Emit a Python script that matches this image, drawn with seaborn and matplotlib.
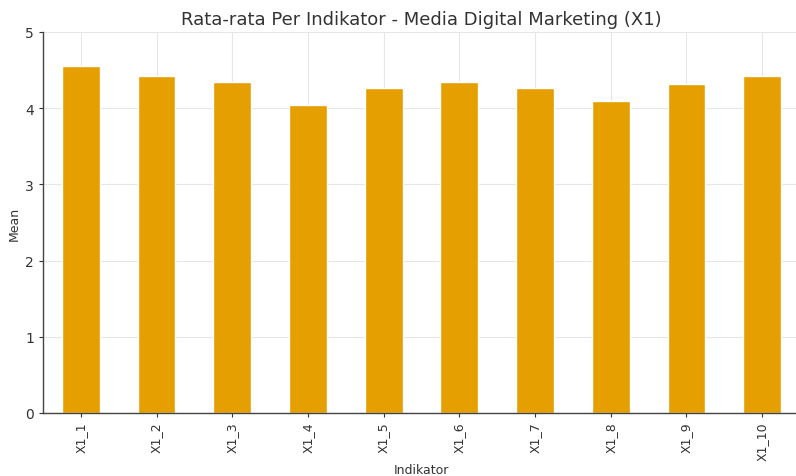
import numpy as np
import pandas as pd
import matplotlib
matplotlib.use("Agg")
import matplotlib.pyplot as plt
import seaborn as sns

# Data
indikator = ["X1_1", "X1_2", "X1_3", "X1_4", "X1_5",
             "X1_6", "X1_7", "X1_8", "X1_9", "X1_10"]
mean_vals = [4.55, 4.42, 4.35, 4.04, 4.27, 4.35, 4.27, 4.10, 4.32, 4.42]

df = pd.DataFrame({"Indikator": indikator, "Mean": mean_vals})

sns.set_theme(style="whitegrid")
plt.rcParams['font.family'] = ['DejaVu Sans']

fig = plt.figure(figsize=(7.96, 4.77), dpi=100)
ax = fig.add_axes([43 / 796, 1 - 414 / 477, 1 - 43 / 796 + 0.005, (414 - 33) / 477])

sns.barplot(data=df, x="Indikator", y="Mean", color="#E69F00",
            saturation=1, width=0.5, ax=ax)

ax.set_xlim(-0.5, 9.5)
ax.set_ylim(0, 5)
ax.set_yticks([0, 1, 2, 3, 4, 5])
ax.set_title("Rata-rata Per Indikator - Media Digital Marketing (X1)",
             fontsize=13, color="#333333", pad=6)
ax.set_xlabel("Indikator", fontsize=9, color="#333333", labelpad=2)
ax.set_ylabel("Mean", fontsize=9, color="#333333", labelpad=3)
ax.tick_params(axis="x", labelrotation=90, labelsize=9, colors="#333333",
               length=3, width=0.8, bottom=True, pad=3)
ax.tick_params(axis="y", labelsize=10, colors="#333333",
               length=3, width=0.8, left=True)

ax.grid(True, color="#e6e6e6", linewidth=0.8)
ax.set_axisbelow(True)
for s in ["top", "right"]:
    ax.spines[s].set_visible(False)
for s in ["left", "bottom"]:
    ax.spines[s].set_color("#444444")
    ax.spines[s].set_linewidth(1.0)

plt.savefig("out.png", dpi=100)
